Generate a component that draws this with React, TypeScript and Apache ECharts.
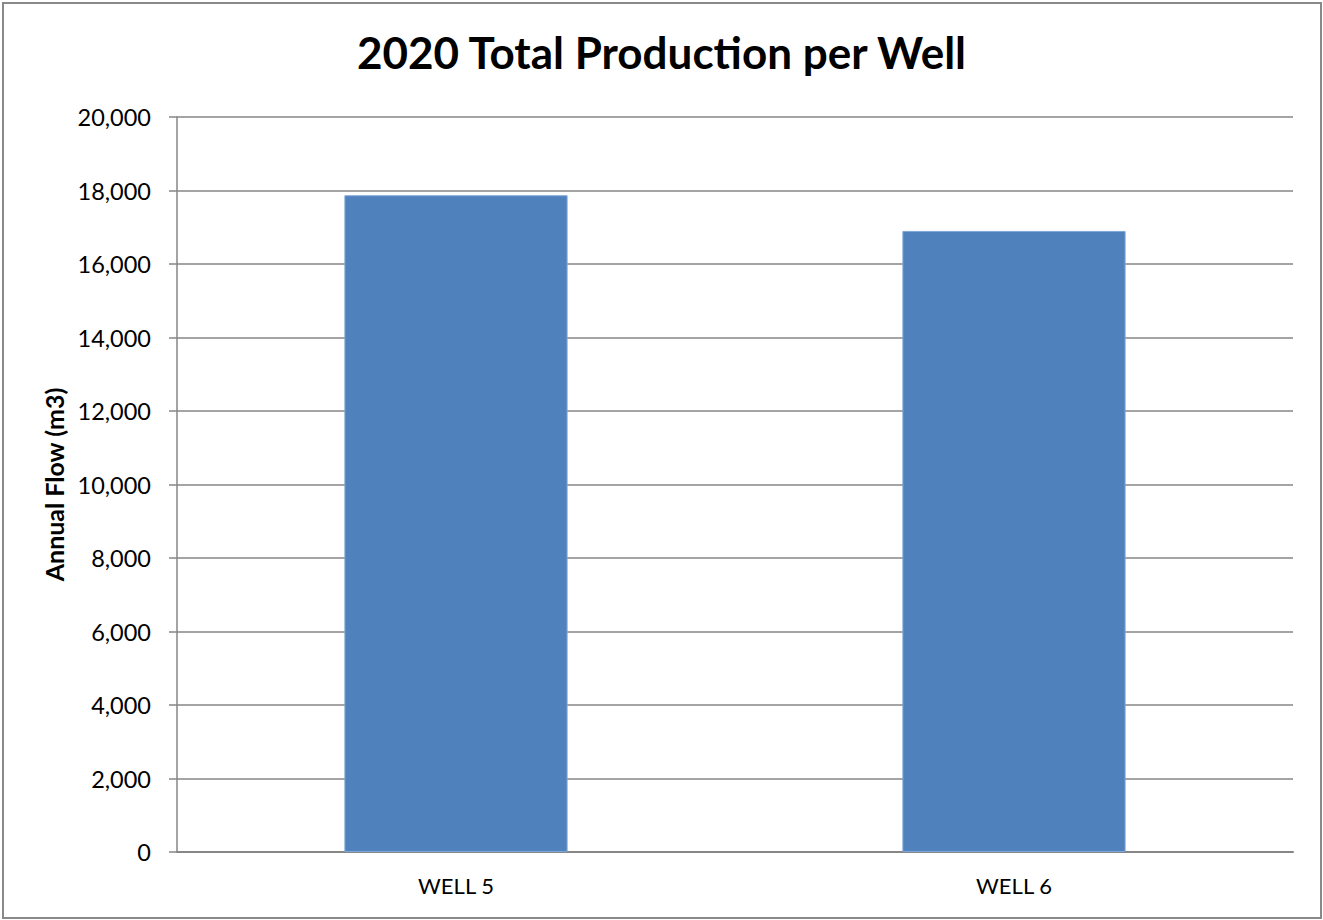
import React, { useEffect, useRef } from "react";
import * as echarts from "echarts";

const categories = ["WELL 5", "WELL 6"];
const annualFlow = [17870, 16900];
const yTicks = [0, 2000, 4000, 6000, 8000, 10000, 12000, 14000, 16000, 18000, 20000];
const titleText = "2020 Total Production per Well";
const yAxisName = "Annual Flow (m3)";

const FONT = "Lato, 'Open Sans', sans-serif";

export default function App() {
  const ref = useRef<HTMLDivElement>(null);
  useEffect(() => {
    if (!ref.current) return;
    const chart = echarts.init(ref.current, undefined, { renderer: "svg" });
    const fmt = (v: number) => v.toLocaleString("en-US");
    chart.setOption({
      animation: false,
      backgroundColor: "#ffffff",
      title: {
        text: titleText,
        left: "center",
        top: 25,
        textStyle: { fontFamily: FONT, fontWeight: "bold", fontSize: 44, color: "#000000" },
      },
      graphic: [
        {
          type: "rect",
          shape: { x: 3, y: 3, width: 1318, height: 915 },
          style: { fill: "none", stroke: "#898989", lineWidth: 2 },
          silent: true,
        },
      ],
      grid: { left: 177, right: 30, top: 117, bottom: 68, containLabel: false },
      xAxis: {
        type: "category",
        data: categories,
        axisLine: { show: true, lineStyle: { color: "#868686", width: 2 } },
        axisTick: { show: false },
        axisLabel: { fontFamily: FONT, fontSize: 22, color: "#000000", margin: 22 },
        splitLine: { show: false },
      },
      yAxis: {
        type: "value",
        min: yTicks[0],
        max: yTicks[yTicks.length - 1],
        interval: yTicks[1] - yTicks[0],
        name: yAxisName,
        nameLocation: "middle",
        nameGap: 108,
        nameRotate: 90,
        nameTextStyle: { fontFamily: FONT, fontWeight: "bold", fontSize: 25, color: "#000000" },
        axisLine: { show: true, lineStyle: { color: "#868686", width: 1.5 } },
        axisTick: { show: true, inside: false, length: 8, lineStyle: { color: "#868686", width: 1.5 } },
        axisLabel: { fontFamily: FONT, fontSize: 23.5, color: "#000000", margin: 26, formatter: fmt },
        splitLine: { show: true, lineStyle: { color: "#868686", width: 1.5 } },
      },
      series: [
        {
          type: "bar",
          data: annualFlow,
          barWidth: "40%",
          itemStyle: { color: "#4f81bd", borderColor: "#7ea6d8", borderWidth: 1 },
        },
      ],
    });
    return () => chart.dispose();
  }, []);
  return (
    <div
      ref={ref}
      style={{ position: "absolute", left: 0, top: 0, width: 1323, height: 920 }}
    />
  );
}
